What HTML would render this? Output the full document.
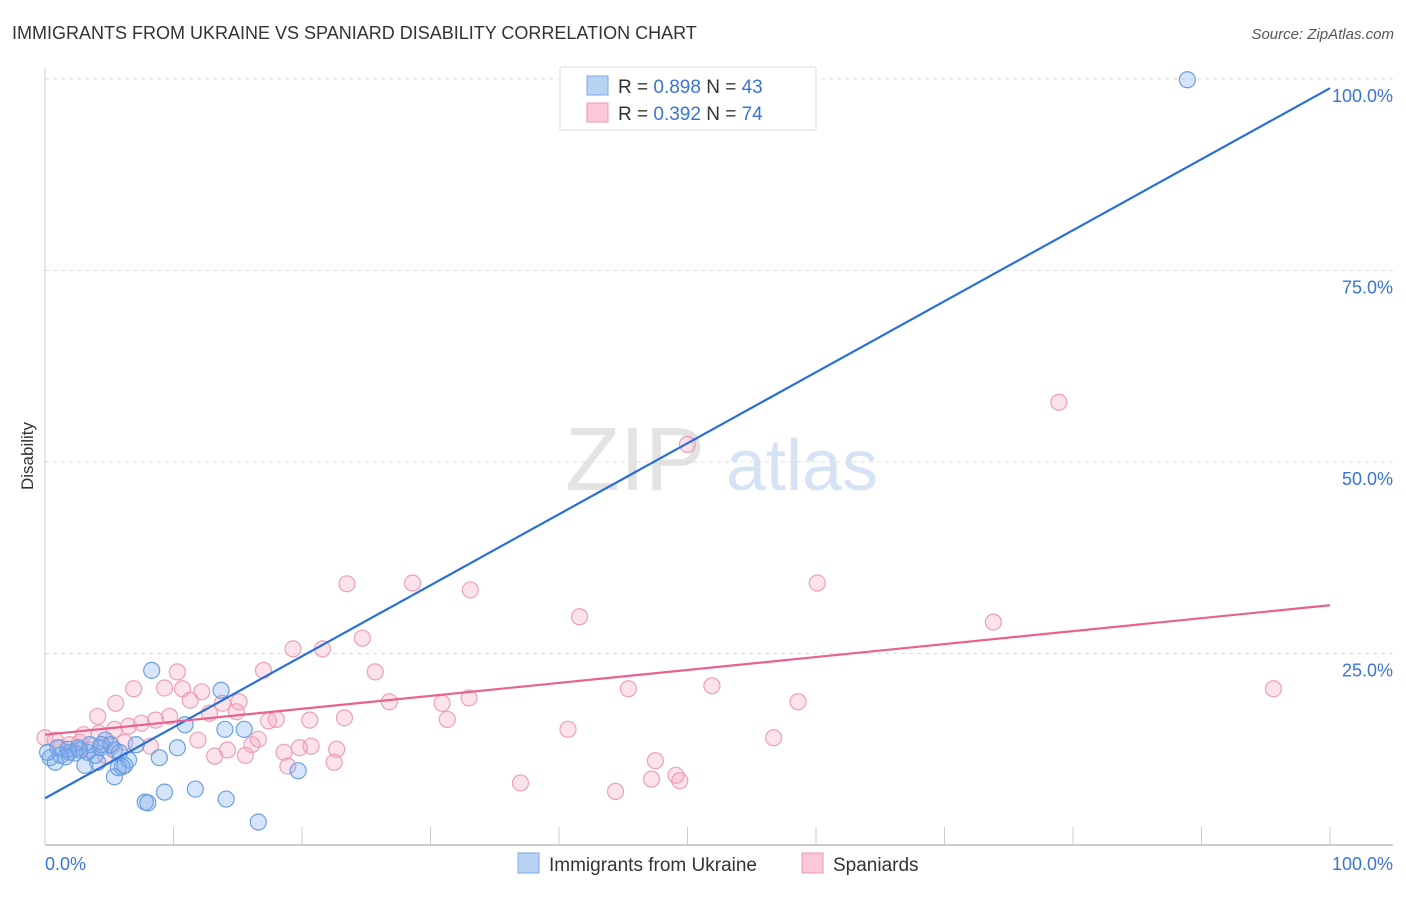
<!DOCTYPE html>
<html><head><meta charset="utf-8"><style>
body{margin:0;background:#fff;font-family:"Liberation Sans",sans-serif;}
svg text{font-family:"Liberation Sans",sans-serif;}
</style></head><body>
<svg id="chart" width="1406" height="892" xmlns="http://www.w3.org/2000/svg">
<text x="12" y="39" font-size="18" fill="#333">IMMIGRANTS FROM UKRAINE VS SPANIARD DISABILITY CORRELATION CHART</text>
<text x="1394" y="39" font-size="15" fill="#555" font-style="italic" text-anchor="end">Source: ZipAtlas.com</text>
<text transform="translate(33,456) rotate(-90)" font-size="17" fill="#333" text-anchor="middle">Disability</text>
<g>
<text x="635" y="490" font-size="90" fill="#e3e3e3" font-family="Liberation Serif" text-anchor="middle">ZIP</text>
<text x="802" y="490" font-size="72" fill="#d6e3f5" text-anchor="middle">atlas</text>
</g>
<g id="grid"></g>
<g id="axes"></g>
<g id="pts"></g>
<g id="lines"></g>
<g>
<rect x="560" y="67" width="256" height="63" fill="#fff" stroke="#ddd"/>
<rect x="587" y="76" width="21" height="19" fill="#b9d3f5" stroke="#7aaae8"/>
<rect x="587" y="103" width="21" height="19" fill="#fac8d7" stroke="#ee9ab4"/>
<text x="618" y="93" font-size="19" fill="#333">R = <tspan fill="#3a74d4">0.898</tspan>   N = <tspan fill="#3a74d4">43</tspan></text>
<text x="618" y="120" font-size="19" fill="#333">R = <tspan fill="#3a74d4">0.392</tspan>   N = <tspan fill="#3a74d4">74</tspan></text>
</g>
<g>
<rect x="518" y="853" width="21" height="20" fill="#b9d3f5" stroke="#7aaae8"/>
<text x="549" y="871" font-size="19" fill="#333">Immigrants from Ukraine</text>
<rect x="802" y="853" width="21" height="20" fill="#fac8d7" stroke="#ee9ab4"/>
<text x="833" y="871" font-size="19" fill="#333">Spaniards</text>
</g>
</svg>
<script>
const yTicks=[25,50,75,100];
const yTickLabels=["25.0%","50.0%","75.0%","100.0%"];
const xTickLabels=["0.0%","100.0%"];
const blueX=[88.9,8.3,13.7,10.9,14.0,15.5,10.3,8.9,6.5,6.0,5.7,19.7,5.4,9.3,11.7,14.1,7.8,8.0,16.6,7.1,5.4,4.3,3.5,2.7,1.9,1.2,0.4,0.8,3.1,3.9,4.7,5.1,2.3,1.6,5.8,3.3,0.2,1.0,1.8,2.6,4.1,4.4,6.2];
const blueY=[99.9,22.8,20.2,15.7,15.1,15.1,12.7,11.4,11.1,10.2,10.1,9.7,8.9,6.9,7.3,6.0,5.6,5.5,3.0,13.1,12.4,12.7,13.1,12.4,12.1,11.7,11.4,10.8,10.4,11.7,13.7,13.1,12.0,11.5,12.1,12.1,12.1,12.7,12.5,12.7,10.8,13.1,10.4];
const pinkX=[78.9,50.0,23.5,28.6,33.1,60.1,41.6,73.8,24.7,19.3,21.6,17.0,25.7,10.3,6.9,9.3,10.7,12.2,45.4,51.9,95.6,26.8,30.9,33.0,15.1,13.8,11.3,5.5,4.1,12.8,17.4,18.0,20.6,23.3,31.3,8.6,7.5,6.5,5.4,4.2,3.0,40.7,58.6,56.7,16.6,16.1,14.2,13.2,15.6,18.6,19.8,20.7,22.7,18.9,22.5,47.5,49.1,47.2,49.4,37.0,44.4,0.8,1.9,3.5,1.2,5.2,8.2,9.7,11.9,14.9,2.7,0.0,4.7,6.2];
const pinkY=[57.8,52.3,34.1,34.2,33.3,34.2,29.8,29.1,27.0,25.6,25.6,22.8,22.6,22.6,20.4,20.5,20.4,20.0,20.4,20.8,20.4,18.7,18.5,19.2,18.7,18.5,18.9,18.5,16.8,17.2,16.2,16.4,16.3,16.6,16.4,16.3,15.9,15.5,15.1,14.6,14.4,15.1,18.7,14.0,13.8,13.1,12.4,11.6,11.7,12.1,12.7,12.9,12.5,10.3,10.8,11.0,9.1,8.6,8.4,8.1,7.0,13.7,13.1,12.4,12.7,12.9,12.9,16.8,13.7,17.4,13.4,14.0,11.7,13.4];
const blueTrend=[6.1,98.8];
const pinkTrend=[14.4,31.3];
const NS="http://www.w3.org/2000/svg";
const X=v=>45+v*12.85, Y=v=>845-v*7.66;
function mk(t,a,p){const e=document.createElementNS(NS,t);for(const k in a)e.setAttribute(k,a[k]);p.appendChild(e);return e;}
const grid=document.getElementById('grid');
yTicks.forEach((t,i)=>{
 const l=mk('line',{x1:45,x2:1393,y1:Y(t),y2:Y(t),stroke:'#ddd','stroke-dasharray':'4,4'},grid);
 
 
 const tx=mk('text',{x:1393,y:Y(t)+23,'font-size':18,fill:'#3a74d4','text-anchor':'end'},grid);
 tx.textContent=yTickLabels[i];
 
 
});
const ax=document.getElementById('axes');
const xa=mk('line',{x1:45,x2:1393,y1:845,y2:845,stroke:'#bbb','stroke-width':1.5},ax);


const ya=mk('line',{x1:45,x2:45,y1:68,y2:845,stroke:'#ccc'},ax);


for(let i=0;i<=10;i++){
 const tk=mk('line',{x1:X(i*10),x2:X(i*10),y1:827,y2:845,stroke:'#ccc'},ax);
 
 
}
[[0,'start',45],[1,'end',1393]].forEach(([i,a,x])=>{
 const t=mk('text',{x:x,y:870,'font-size':18,fill:'#3a74d4','text-anchor':a},ax);
 t.textContent=xTickLabels[i];
 
 
});
const pts=document.getElementById('pts');
pinkX.forEach((x,i)=>{
 const c=mk('circle',{cx:X(x),cy:Y(pinkY[i]),r:8,fill:'rgba(244,160,188,0.3)',stroke:'#eda0b8','stroke-width':1.2},pts);
 
 
});
blueX.forEach((x,i)=>{
 const c=mk('circle',{cx:X(x),cy:Y(blueY[i]),r:8,fill:'rgba(120,170,235,0.3)',stroke:'#6b9fe2','stroke-width':1.2},pts);
 
 
});
const ln=document.getElementById('lines');
const bl=mk('line',{x1:X(0),y1:Y(blueTrend[0]),x2:X(100),y2:Y(blueTrend[1]),stroke:'#2a6fd6','stroke-width':2.2},ln);


const pl=mk('line',{x1:X(0),y1:Y(pinkTrend[0]),x2:X(100),y2:Y(pinkTrend[1]),stroke:'#e8628e','stroke-width':2.2},ln);


</script>
</body></html>
